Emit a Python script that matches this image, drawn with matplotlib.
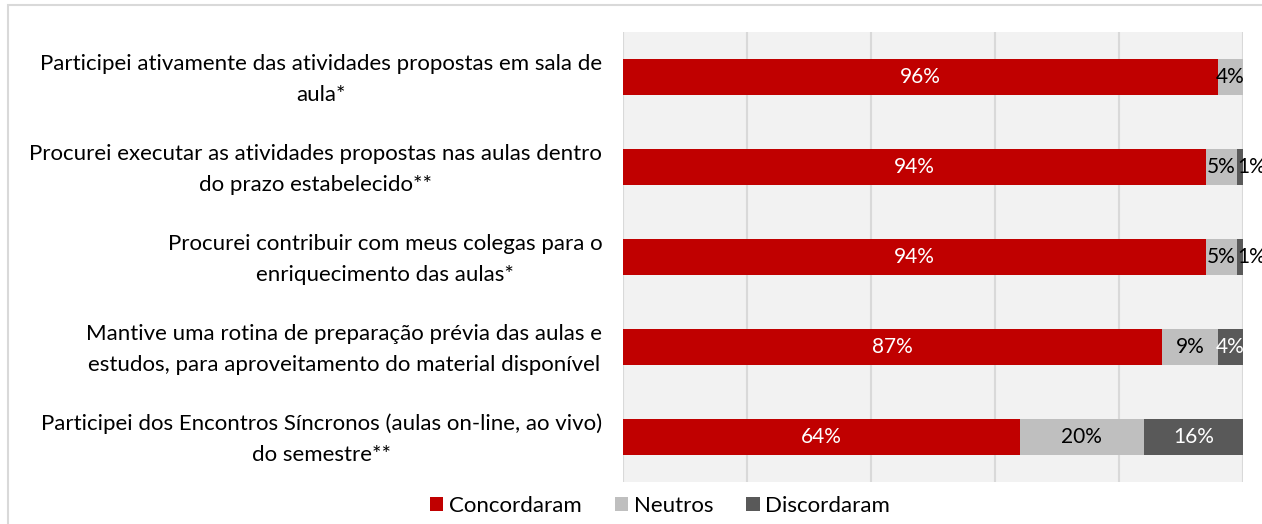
import numpy as np
import matplotlib
matplotlib.use("Agg")
import matplotlib.pyplot as plt
import matplotlib.transforms as mtransforms
from matplotlib.patches import Rectangle

plt.rcParams['font.family'] = ['Lato', 'DejaVu Sans']

categories = [
    "Participei ativamente das atividades propostas em sala de\naula*",
    "Procurei executar as atividades propostas nas aulas dentro\ndo prazo estabelecido**",
    "Procurei contribuir com meus colegas para o\nenriquecimento das aulas*",
    "Mantive uma rotina de preparação prévia das aulas e\nestudos, para aproveitamento do material disponível",
    "Participei dos Encontros Síncronos (aulas on-line, ao vivo)\ndo semestre**",
]
concordaram = [96, 94, 94, 87, 64]
neutros = [4, 5, 5, 9, 20]
discordaram = [0.4, 1, 1, 4, 16]

series = [
    ("Concordaram", concordaram, "#C00000", "white"),
    ("Neutros", neutros, "#BFBFBF", "black"),
    ("Discordaram", discordaram, "#595959", "white"),
]

fig = plt.figure(figsize=(12.62, 5.24), dpi=100)
fig.patches.append(Rectangle((8 / 1262, -0.1), 1.2, 1.1 - 5 / 524, transform=fig.transFigure,
                             fill=False, edgecolor="#D9D9D9", linewidth=1.5))
ax = fig.add_axes([623 / 1262, 1 - 482 / 524, 620 / 1262, 450 / 524])
ax.set_facecolor("#F2F2F2")

y = np.arange(len(categories))
left = np.zeros(len(categories))
for name, vals, color, tcolor in series:
    vals = np.array(vals, dtype=float)
    ax.barh(y, vals, left=left, height=0.4, color=color, label=name, zorder=3)
    for yi, l, v in zip(y, left, vals):
        if v < 0.5:
            continue
        if v < 2:
            ax.text(l + 0.1, yi, f"{v:.0f}%", ha="left", va="center", color="black",
                    fontsize=15, zorder=4, clip_on=False)
        else:
            ax.text(l + v / 2, yi, f"{v:.0f}%", ha="center", va="center", color=tcolor,
                    fontsize=15, zorder=4, clip_on=False)
    left += vals

ax.set_xlim(0, 100)
ax.set_ylim(len(categories) - 0.5, -0.5)
ax.set_xticks(np.arange(0, 101, 20))
ax.xaxis.grid(True, color="#D9D9D9", linewidth=1.5, zorder=0)
ax.set_axisbelow(True)
ax.tick_params(axis="x", length=0, labelbottom=False)
ax.tick_params(axis="y", length=0, pad=15)
ax.set_yticks(y)
ax.set_yticklabels(categories, fontsize=16, color="black", multialignment="center",
                   linespacing=1.7)
shift = mtransforms.ScaledTranslation(0, 5 / 100, fig.dpi_scale_trans)
for lab in ax.get_yticklabels():
    lab.set_transform(lab.get_transform() + shift)
for s in ax.spines.values():
    s.set_visible(False)

fig.legend(loc="center", bbox_to_anchor=(660 / 1262, 1 - 506 / 524), ncol=3, frameon=False,
           fontsize=16, handlelength=0.6, handleheight=0.6, handletextpad=0.25,
           columnspacing=1.5)

fig.savefig("out.png", dpi=100)
